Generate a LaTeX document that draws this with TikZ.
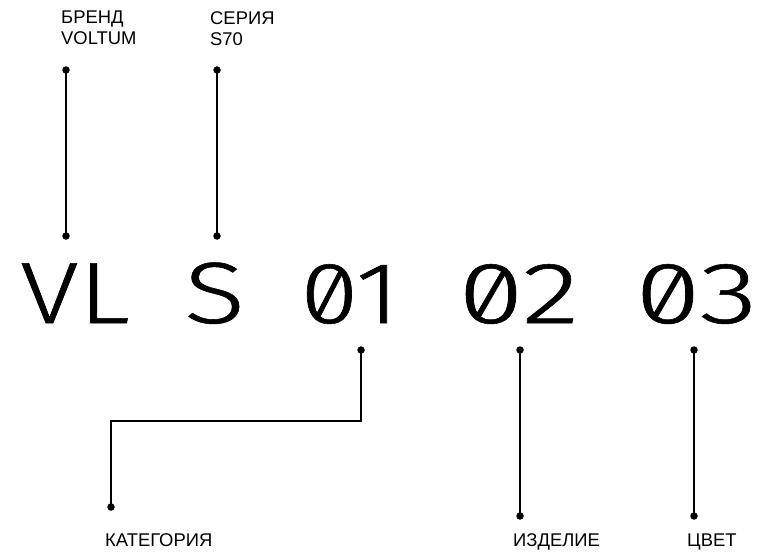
\documentclass[tikz,border=0pt]{standalone}
\usepackage{graphicx}
\usepackage{fontspec}
\setmainfont{Liberation Sans}
\IfFontExistsTF{Fira Sans Light}{\newfontfamily\bigf{Fira Sans Light}[RawFeature=+zero,FakeBold=0.6]}{\newfontfamily\bigf{Fira Sans}[RawFeature=+zero]}
\newcommand\wide[2]{\scalebox{#1}[1]{#2}}
\begin{document}
\begin{tikzpicture}[x=1pt,y=-1pt,
  lbl/.style={inner sep=0pt, font=\fontsize{18.4}{21}\selectfont, align=left},
  big/.style={anchor=base west, inner sep=0pt, font=\bigf\fontsize{87}{90}\selectfont},
  dot/.style={circle, fill=black, inner sep=0pt, minimum size=7.5pt},
  conn/.style={line width=1.3pt, black}]
\useasboundingbox (0,0) rectangle (757,556);

% top labels
\node[lbl, anchor=north west] (brand) at (61,11) {БРЕНД\\VOLTUM};
\node[lbl, anchor=north west] (series) at (210,11) {СЕРИЯ\\S70};

% code
\node[big] (vl) at (20,323) {\wide{1.23}{VL}};
\node[big] (s) at (184,323) {\wide{1.3}{S}};
\node[big] (n1) at (300,323) {\wide{1.22}{01}};
\node[big] (n2) at (458,323) {\wide{1.37}{02}};
\node[big] (n3) at (635,323) {\wide{1.37}{03}};

% bottom labels
\node[lbl, anchor=base west] (cat) at (105,546) {КАТЕГОРИЯ};
\node[lbl, anchor=base west] (item) at (513,546) {ИЗДЕЛИЕ};
\node[lbl, anchor=base west] (col) at (687,546) {ЦВЕТ};

% dots
\node[dot] (b1) at (66,70) {};
\node[dot] (b2) at (66,236) {};
\node[dot] (s1) at (217,70) {};
\node[dot] (s2) at (217,236) {};
\node[dot] (c1) at (361,350) {};
\node[dot] (c2) at (111,507) {};
\coordinate (ck) at (111,421);
\node[dot] (i1) at (520,350) {};
\node[dot] (i2) at (520,516) {};
\node[dot] (z1) at (694,350) {};
\node[dot] (z2) at (694,516) {};

% connectors
\draw[conn] (b1.center) -- (b2.center);
\draw[conn] (s1.center) -- (s2.center);
\draw[conn] (c1.center) |- (ck) -- (c2.center);
\draw[conn] (i1.center) -- (i2.center);
\draw[conn] (z1.center) -- (z2.center);
\end{tikzpicture}
\end{document}
